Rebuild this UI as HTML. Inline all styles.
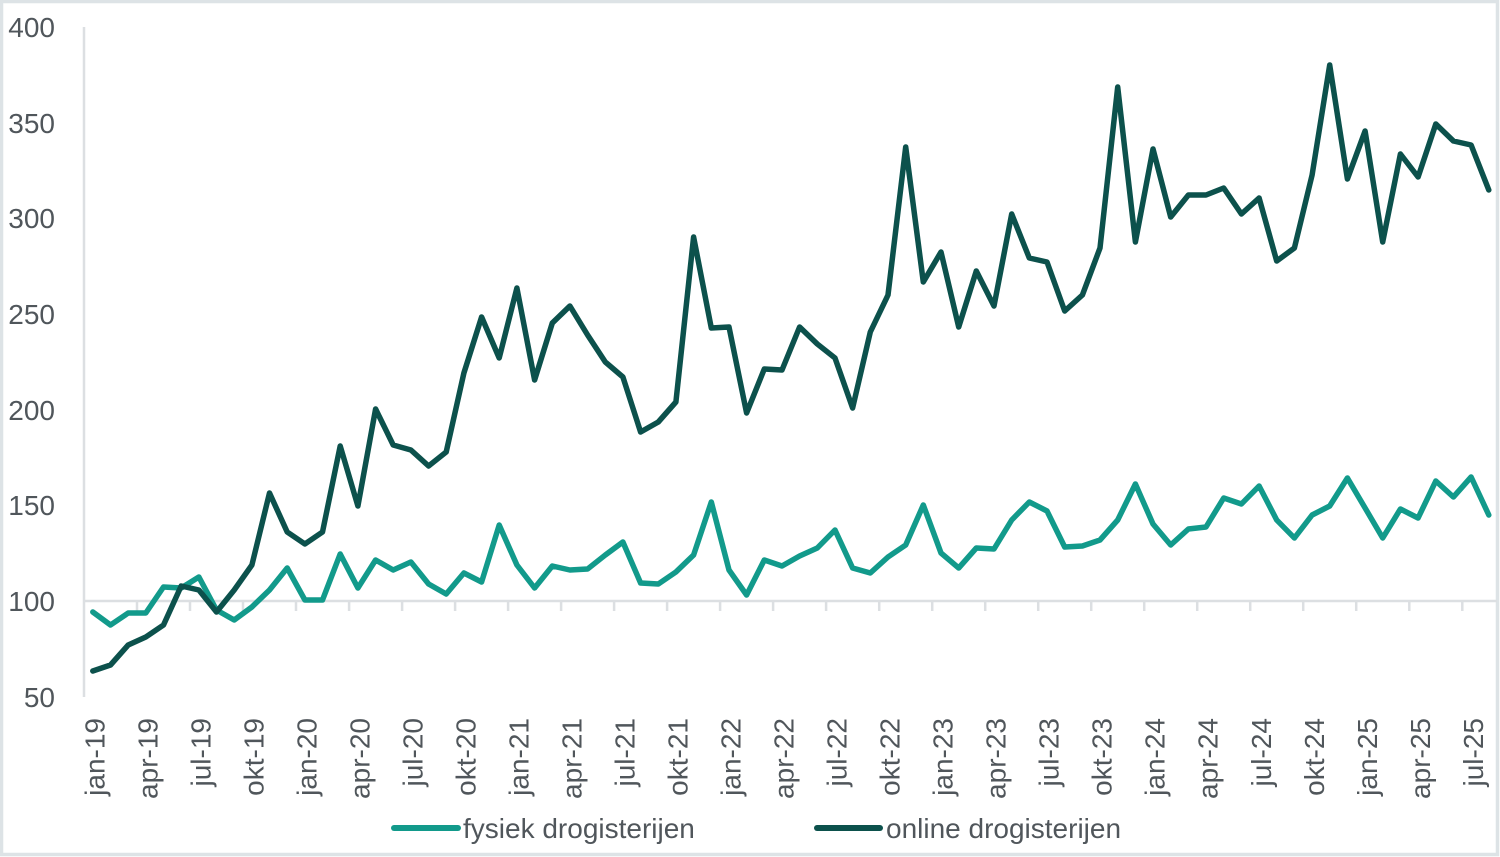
<!DOCTYPE html>
<html>
<head>
<meta charset="utf-8">
<style>
html,body{margin:0;padding:0;background:#fff;}
body{width:1500px;height:857px;overflow:hidden;}
svg{display:block;}
text{font-family:"Liberation Sans",sans-serif;fill:#50565b;}
</style>
</head>
<body>
<svg width="1500" height="857" viewBox="0 0 1500 857" xmlns="http://www.w3.org/2000/svg">
<rect x="0" y="0" width="1500" height="857" fill="#ffffff"/>
<rect x="1.5" y="1.5" width="1496" height="853" fill="none" stroke="#dde3e6" stroke-width="3.5"/>

<!-- axes -->
<line x1="84" y1="27" x2="84" y2="697" stroke="#dcdfe2" stroke-width="2.5"/>
<line x1="84" y1="601" x2="1497" y2="601" stroke="#dcdfe2" stroke-width="2.5"/>
<g stroke="#dcdfe2" stroke-width="2.5">
<line x1="137" y1="601" x2="137" y2="611"/><line x1="190" y1="601" x2="190" y2="611"/><line x1="243" y1="601" x2="243" y2="611"/><line x1="296" y1="601" x2="296" y2="611"/><line x1="349.1" y1="601" x2="349.1" y2="611"/><line x1="402.1" y1="601" x2="402.1" y2="611"/><line x1="455.1" y1="601" x2="455.1" y2="611"/><line x1="508.1" y1="601" x2="508.1" y2="611"/><line x1="561.1" y1="601" x2="561.1" y2="611"/><line x1="614.1" y1="601" x2="614.1" y2="611"/><line x1="667.1" y1="601" x2="667.1" y2="611"/><line x1="720.1" y1="601" x2="720.1" y2="611"/><line x1="773.1" y1="601" x2="773.1" y2="611"/><line x1="826.1" y1="601" x2="826.1" y2="611"/><line x1="879.2" y1="601" x2="879.2" y2="611"/><line x1="932.2" y1="601" x2="932.2" y2="611"/><line x1="985.2" y1="601" x2="985.2" y2="611"/><line x1="1038.2" y1="601" x2="1038.2" y2="611"/><line x1="1091.2" y1="601" x2="1091.2" y2="611"/><line x1="1144.2" y1="601" x2="1144.2" y2="611"/><line x1="1197.2" y1="601" x2="1197.2" y2="611"/><line x1="1250.2" y1="601" x2="1250.2" y2="611"/><line x1="1303.2" y1="601" x2="1303.2" y2="611"/><line x1="1356.2" y1="601" x2="1356.2" y2="611"/><line x1="1409.3" y1="601" x2="1409.3" y2="611"/><line x1="1462.3" y1="601" x2="1462.3" y2="611"/>
</g>

<!-- y labels -->
<g font-size="28" text-anchor="end">
<text x="55" y="37">400</text>
<text x="55" y="133">350</text>
<text x="55" y="228">300</text>
<text x="55" y="324">250</text>
<text x="55" y="420">200</text>
<text x="55" y="515">150</text>
<text x="55" y="611">100</text>
<text x="55" y="707">50</text>
</g>

<!-- x labels -->
<g font-size="28" text-anchor="end">
<text transform="translate(104.5,718) rotate(-90)">jan-19</text>
<text transform="translate(157.5,718) rotate(-90)">apr-19</text>
<text transform="translate(210.6,718) rotate(-90)">jul-19</text>
<text transform="translate(263.6,718) rotate(-90)">okt-19</text>
<text transform="translate(316.6,718) rotate(-90)">jan-20</text>
<text transform="translate(369.6,718) rotate(-90)">apr-20</text>
<text transform="translate(422.6,718) rotate(-90)">jul-20</text>
<text transform="translate(475.6,718) rotate(-90)">okt-20</text>
<text transform="translate(528.6,718) rotate(-90)">jan-21</text>
<text transform="translate(581.6,718) rotate(-90)">apr-21</text>
<text transform="translate(634.6,718) rotate(-90)">jul-21</text>
<text transform="translate(687.6,718) rotate(-90)">okt-21</text>
<text transform="translate(740.7,718) rotate(-90)">jan-22</text>
<text transform="translate(793.7,718) rotate(-90)">apr-22</text>
<text transform="translate(846.7,718) rotate(-90)">jul-22</text>
<text transform="translate(899.7,718) rotate(-90)">okt-22</text>
<text transform="translate(952.7,718) rotate(-90)">jan-23</text>
<text transform="translate(1005.7,718) rotate(-90)">apr-23</text>
<text transform="translate(1058.7,718) rotate(-90)">jul-23</text>
<text transform="translate(1111.7,718) rotate(-90)">okt-23</text>
<text transform="translate(1164.7,718) rotate(-90)">jan-24</text>
<text transform="translate(1217.7,718) rotate(-90)">apr-24</text>
<text transform="translate(1270.8,718) rotate(-90)">jul-24</text>
<text transform="translate(1323.8,718) rotate(-90)">okt-24</text>
<text transform="translate(1376.8,718) rotate(-90)">jan-25</text>
<text transform="translate(1429.8,718) rotate(-90)">apr-25</text>
<text transform="translate(1482.8,718) rotate(-90)">jul-25</text>
</g>

<!-- fysiek -->
<polyline fill="none" stroke="#129a8b" stroke-width="5.5" stroke-linejoin="round" stroke-linecap="round" points="92.8,612 110.5,625 128.2,613 145.8,613 163.5,587 181.2,588 198.9,577 216.5,610 234.2,620 251.9,607 269.5,590 287.2,568 304.9,600 322.5,600 340.2,554 357.9,588 375.6,560 393.2,570 410.9,562 428.6,584 446.2,594 463.9,573 481.6,582 499.2,525 516.9,565 534.6,588 552.3,566 569.9,570 587.6,569 605.3,555 622.9,542 640.6,583 658.3,584 675.9,572 693.6,555 711.3,502 729,570 746.6,595 764.3,560 782,566 799.6,556 817.3,548 835,530 852.6,568 870.3,573 888,557 905.7,545 923.3,505 941,553 958.7,568 976.3,548 994,549 1011.7,520 1029.3,502 1047,511 1064.7,547 1082.4,546 1100,540 1117.7,520 1135.4,484 1153,524 1170.7,545 1188.4,529 1206,527 1223.7,498 1241.4,504 1259.1,486 1276.7,520 1294.4,538 1312.1,515 1329.7,506 1347.4,478 1365.1,508 1382.7,538 1400.4,509 1418.1,518 1435.8,481 1453.4,497 1471.1,477 1488.8,515"/>

<!-- online -->
<polyline fill="none" stroke="#0c514c" stroke-width="5.5" stroke-linejoin="round" stroke-linecap="round" points="92.8,671 110.5,665 128.2,645 145.8,637 163.5,625 181.2,586 198.9,590 216.5,612 234.2,590 251.9,565 269.5,493 287.2,532 304.9,544 322.5,532 340.2,446 357.9,506 375.6,409 393.2,445 410.9,450 428.6,466 446.2,452 463.9,373 481.6,317 499.2,358 516.9,288 534.6,380 552.3,323 569.9,306 587.6,335 605.3,362 622.9,377 640.6,432 658.3,422 675.9,402 693.6,237 711.3,328 729,327 746.6,413 764.3,369 782,370 799.6,327 817.3,344 835,358 852.6,408 870.3,332 888,295 905.7,147 923.3,282 941,252 958.7,327 976.3,271 994,306 1011.7,214 1029.3,258 1047,262 1064.7,311 1082.4,295 1100,248 1117.7,87 1135.4,242 1153,149 1170.7,217 1188.4,195 1206,195 1223.7,188 1241.4,214 1259.1,198 1276.7,261 1294.4,248 1312.1,175 1329.7,65 1347.4,179 1365.1,131 1382.7,242 1400.4,154 1418.1,177 1435.8,124 1453.4,141 1471.1,145 1488.8,190"/>

<!-- legend -->
<line x1="394" y1="828" x2="458" y2="828" stroke="#129a8b" stroke-width="6" stroke-linecap="round"/>
<text x="463" y="838" font-size="28">fysiek drogisterijen</text>
<line x1="817" y1="828" x2="880" y2="828" stroke="#0c514c" stroke-width="6" stroke-linecap="round"/>
<text x="886" y="838" font-size="28">online drogisterijen</text>
</svg>
</body>
</html>
